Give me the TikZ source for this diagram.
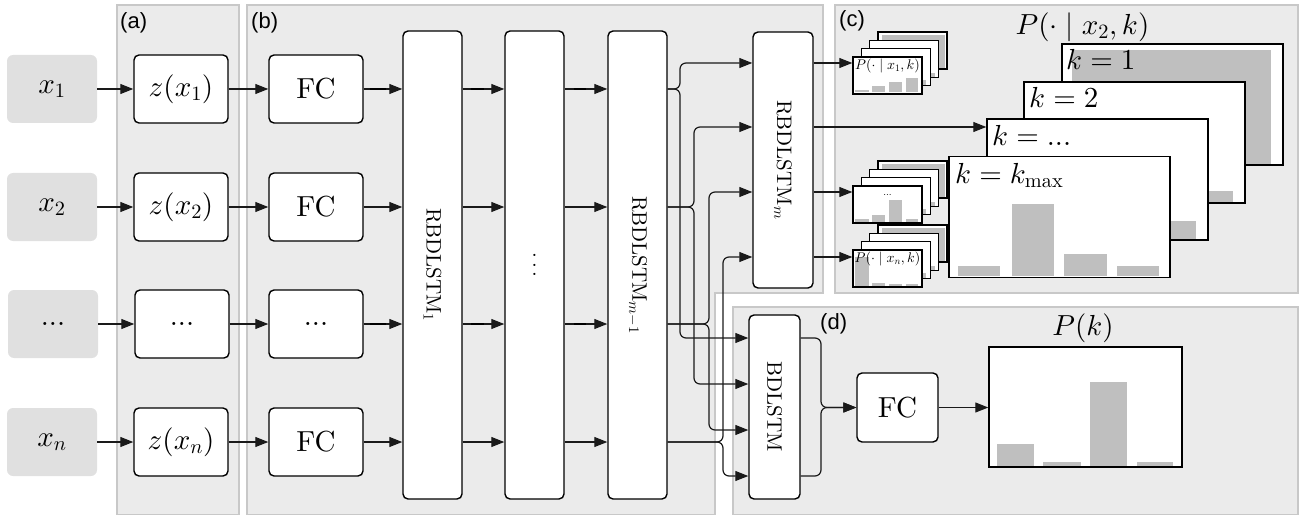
\documentclass[tikz,border=0pt]{standalone}
\usepackage{fontspec}
\setmainfont{lmroman10-regular.otf}
\newfontfamily\panelfont{Liberation Sans}
\usepackage{graphicx}
\usetikzlibrary{arrows.meta,calc}
\DeclareFontShape{OML}{cmm}{m}{it}{<-> cmmi10}{}
\DeclareFontShape{OT1}{cmr}{m}{n}{<-> cmr10}{}
\DeclareFontShape{OMS}{cmsy}{m}{n}{<-> cmsy10}{}
\DeclareFontShape{OMX}{cmex}{m}{n}{<-> cmex10}{}

\definecolor{panelfill}{HTML}{EBEBEB}
\definecolor{panelline}{HTML}{C8C8C8}
\definecolor{inputfill}{HTML}{E0E0E0}
\definecolor{barfill}{HTML}{BFBFBF}
\definecolor{conncol}{HTML}{1A1A1A}

\newcommand\mainfs{\fontsize{29}{35}\selectfont}
\newcommand\rbfs{\fontsize{21}{25}\selectfont}
\newcommand\tinyfs{\fontsize{14}{16}\selectfont}

\newcommand\smallstack[8]{%
  \draw[frame] (#2+25,#3-25) rectangle +(69,37);
  \fill[barfill] (#2+29,#3-22) rectangle (#2+92,#3+11.3);
  \draw[frame] (#2+16.6,#3-16.6) rectangle +(69,37);
  \fill[barfill] (#2+69.6,#3+16.4) rectangle (#2+81.6,#3+19.6);
  \draw[frame] (#2+8.3,#3-8.3) rectangle +(69,37);
  \fill[barfill] (#2+61.3,#3+22.7) rectangle (#2+73.3,#3+27.7);
  \node[frame, minimum width=69pt, minimum height=37pt, inner sep=0] (#1) at (#2+34.5,#3+18.5) {};
  \fill[barfill] (#2+2,#3+35.5-#5) rectangle (#2+16,#3+35.5);
  \fill[barfill] (#2+19,#3+35.5-#6) rectangle (#2+32,#3+35.5);
  \fill[barfill] (#2+36,#3+35.5-#7) rectangle (#2+49,#3+35.5);
  \fill[barfill] (#2+53,#3+35.5-#8) rectangle (#2+65,#3+35.5);
  \node[font=\tinyfs, inner sep=0] (#1l) at (#2+34.5,#3+9) {#4};
}

\begin{document}
\begin{tikzpicture}[x=1pt,y=-1pt,
  panel/.style={fill=panelfill, draw=panelline, line width=1.5pt},
  plabel/.style={font=\panelfont\fontsize{22}{26}\selectfont, anchor=west, inner sep=0},
  inbox/.style={fill=inputfill, rounded corners=6pt, minimum width=90pt, minimum height=68pt, inner sep=0, font=\mainfs},
  box/.style={draw=black, fill=white, line width=1.4pt, rounded corners=5pt, inner sep=0, font=\mainfs},
  smbox/.style={box, minimum width=94pt, minimum height=68pt},
  tallbox/.style={box, font=\rbfs},
  conn/.style={draw=conncol, line width=1.2pt, -{Triangle[length=13pt,width=10pt]}},
  thickseg/.style={draw=black, line width=2.8pt},
  frame/.style={draw=black, fill=white, line width=1.4pt},
  klabel/.style={anchor=base west, font=\mainfs, inner sep=0},
]
\useasboundingbox (0,0) rectangle (1299,516);

% panels
\draw[panel] (117,5) rectangle (239,514.5);
\draw[panel] (247,5) -- (823,5) -- (823,293) -- (715,293) -- (715,514.5) -- (247,514.5) -- cycle;
\draw[panel] (835,5) rectangle (1298,293);
\draw[panel] (733,307) rectangle (1298,514.5);

\node[plabel] (la) at (120,23) {(a)};
\node[plabel] (lb) at (251,23) {(b)};
\node[plabel] (lc) at (839,21) {(c)};
\node[plabel] (ld) at (820,324) {(d)};

% inputs
\node[inbox] (x1) at (52,89) {$x_1$};
\node[inbox] (x2) at (52,207) {$x_2$};
\node[inbox] (x3) at (53,324) {...};
\node[inbox] (x4) at (52,442) {$x_n$};

% embeddings
\node[smbox] (z1) at (181,89) {$z(x_1)$};
\node[smbox] (z2) at (181,207) {$z(x_2)$};
\node[smbox] (z3) at (182,324) {...};
\node[smbox] (z4) at (181,442) {$z(x_n)$};

% FC
\node[smbox] (f1) at (316,89) {FC};
\node[smbox] (f2) at (316,207) {FC};
\node[smbox] (f3) at (316,324) {...};
\node[smbox] (f4) at (316,442) {FC};

% tall layers
\node[tallbox, minimum width=59pt, minimum height=468pt] (r1) at (432.5,265) {\rotatebox{-90}{RBDLSTM$_1$}};
\node[tallbox, minimum width=59pt, minimum height=468pt] (rmid) at (534.5,265) {\rotatebox{-90}{$\ldots$}};
\node[tallbox, minimum width=59pt, minimum height=468pt] (rm1) at (637.5,265) {\rotatebox{-90}{RBDLSTM$_{m-1}$}};
\node[tallbox, minimum width=60pt, minimum height=256pt] (rm) at (783,160) {\rotatebox{-90}{RBDLSTM$_m$}};
\node[tallbox, minimum width=51pt, minimum height=184pt] (bd) at (774.5,407) {\rotatebox{-90}{BDLSTM}};

% row connectors
\foreach \i in {1,2,3,4} {
  \draw[conn] (x\i) -- (z\i);
  \draw[conn] (z\i) -- (f\i);
  \draw[conn] (f\i) -- (r1.west |- f\i);
  \draw[conn] (r1.east |- f\i) -- (rmid.west |- f\i);
  \draw[conn] (rmid.east |- f\i) -- (rm1.west |- f\i);
}
\foreach \i in {1,3} {
  \draw[thickseg] ($(f\i.east)+(6,0)$) -- +(16,0);
  \draw[thickseg] ($(r1.east |- f\i)+(8,0)$) -- +(13,0);
  \draw[thickseg] ($(rmid.east |- f\i)+(9,0)$) -- +(12,0);
}

% targets
\coordinate (rmi1) at (rm.west |- 0,63);
\coordinate (rmi2) at (rm.west |- 0,127);
\coordinate (rmi3) at (rm.west |- 0,192);
\coordinate (rmi4) at (rm.west |- 0,257);
\coordinate (bdi1) at (bd.west |- 0,338);
\coordinate (bdi2) at (bd.west |- 0,384);
\coordinate (bdi3) at (bd.west |- 0,430);
\coordinate (bdi4) at (bd.west |- 0,476);

% braces from RBDLSTM_{m-1}
\draw[conn, rounded corners=6pt] (rm1.east |- f1) -- (680,89) -- (680,63) -- (rmi1);
\draw[conn, rounded corners=6pt] (rm1.east |- f1) -- (680,89) -- (680,338) -- (bdi1);
\draw[conn, rounded corners=6pt] (rm1.east |- f2) -- (694,207) -- (694,127) -- (rmi2);
\draw[conn, rounded corners=6pt] (rm1.east |- f2) -- (694,207) -- (694,384) -- (bdi2);
\draw[conn, rounded corners=6pt] (rm1.east |- f3) -- (709,324) -- (709,192) -- (rmi3);
\draw[conn, rounded corners=6pt] (rm1.east |- f3) -- (709,324) -- (709,430) -- (bdi3);
\draw[conn, rounded corners=6pt] (rm1.east |- f4) -- (723,442) -- (723,257) -- (rmi4);
\draw[conn, rounded corners=6pt] (rm1.east |- f4) -- (723,442) -- (723,476) -- (bdi4);

% big stack (c)
\node[font=\mainfs] (ttl) at (1082.5,27) {$P(\cdot\mid x_2,k)$};

\node[frame, minimum width=221pt, minimum height=121pt, inner sep=0] (fk1) at (1172.5,104.5) {};
\fill[barfill] (1072,50) rectangle (1271,164);
\node[klabel] (lk1) at (1066,70) {$k=1$};

\node[frame, minimum width=221pt, minimum height=121pt, inner sep=0] (fk2) at (1134.5,142.5) {};
\fill[barfill] (1139,191) rectangle (1233,202);
\node[klabel] (lk2) at (1029,108) {$k=2$};

\node[frame, minimum width=221pt, minimum height=121pt, inner sep=0] (fk3) at (1097.5,179.5) {};
\fill[barfill] (1155,221) rectangle (1196,239);
\node[klabel] (lk3) at (992,146) {$k={}$...};

\node[frame, minimum width=221pt, minimum height=121pt, inner sep=0] (fk4) at (1059.5,217) {};
\fill[barfill] (958,266) rectangle (1000,276);
\fill[barfill] (1012,204) rectangle (1054,276);
\fill[barfill] (1064,254) rectangle (1107,276);
\fill[barfill] (1117,266) rectangle (1159,276);
\node[klabel] (lk4) at (955,183) {$k=k_{\max}$};

% small stacks
\smallstack{s1}{853}{57}{$P(\cdot\mid x_1,k)$}{2}{6}{10}{14}
\smallstack{s2}{853}{186}{\fontsize{10}{11}\selectfont ...}{3}{7}{22}{3}
\smallstack{s3}{853}{250}{$P(\cdot\mid x_n,k)$}{29}{3}{2}{2}

% outputs of RBDLSTM_m
\draw[conn] (rm.east |- rmi1) -- (s1.west |- rmi1);
\draw[conn] (rm.east |- rmi2) -- (fk3.west |- rmi2);
\draw[conn] (rm.east |- rmi3) -- (s2.west |- rmi3);
\draw[conn] (rm.east |- rmi4) -- (s3.west |- rmi4);

% (d)
\node[box, minimum width=81pt, minimum height=69pt] (fcd) at (897.5,407.5) {FC};
\coordinate (bdo1) at (bd.east |- 0,338);
\coordinate (bdo2) at (bd.east |- 0,476);
\draw[conn, rounded corners=6pt] (bdo1) -- (821,338) -- (821,407.5) -- (fcd.west);
\draw[conn, rounded corners=6pt] (bdo2) -- (821,476) -- (821,407.5) -- (fcd.west);

\node[frame, minimum width=193pt, minimum height=120pt, inner sep=0] (pk) at (1085.5,407) {};
\fill[barfill] (997,444) rectangle (1034,466);
\fill[barfill] (1043,462) rectangle (1081,466);
\fill[barfill] (1090,382) rectangle (1127,466);
\fill[barfill] (1137,462) rectangle (1173,466);
\node[font=\mainfs] (pkl) at (1083,328) {$P(k)$};
\draw[conn] (fcd) -- (pk.west |- fcd);
\end{tikzpicture}
\end{document}
